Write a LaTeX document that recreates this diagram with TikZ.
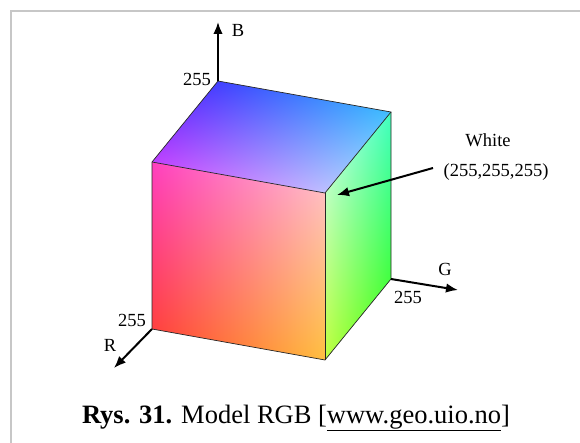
\documentclass[tikz,border=0pt]{standalone}
\usepackage{fontspec}
\setmainfont{Liberation Serif}
\usetikzlibrary{arrows.meta}

% Colour of each visible face of the RGB cube, as a function of the
% face's own unit square (x,y in 0..100)
% front face: R = 1, G along x, B along y
\pgfdeclarefunctionalshading{frontface}{\pgfpointorigin}{\pgfpoint{100bp}{100bp}}{}{%
  100 div exch 100 div exch 1 3 1 roll}
% top face: B = 1, G along x, R along y
\pgfdeclarefunctionalshading{topface}{\pgfpointorigin}{\pgfpoint{100bp}{100bp}}{}{%
  100 div exch 100 div 1}
% side face: G = 1, R along x, B along y
\pgfdeclarefunctionalshading{sideface}{\pgfpointorigin}{\pgfpoint{100bp}{100bp}}{}{%
  100 div exch 100 div exch 1 exch}

\begin{document}
\begin{tikzpicture}[x=1pt,y=1pt,
  edge/.style={line width=0.7pt, draw=black!85},
  axis/.style={line width=2pt, -{Latex[length=12pt,width=9.5pt]}},
  lbl/.style={font=\fontsize{18.5}{20}\selectfont, inner sep=0pt},
  caption/.style={font=\fontsize{26.5}{30}\selectfont, inner sep=0pt}]
\useasboundingbox[fill=white] (0,-443) rectangle (580,0);

% page frame
\draw[line width=1.5pt, black!22] (11,-460) -- (11,-11) -- (600,-11);

% cube corners
\coordinate (cB) at (218,-81);   % blue
\coordinate (cC) at (391,-112);  % cyan
\coordinate (cM) at (152,-162);  % magenta
\coordinate (cW) at (325,-193);  % white
\coordinate (cR) at (152,-329);  % red
\coordinate (cY) at (325,-360);  % yellow
\coordinate (cG) at (391,-279);  % green

% shaded faces
\begin{scope}[transform canvas={cm={1.73,-0.31,0,1.67,(152,-329)}}]
  \shade[shading=frontface] (0,0) rectangle (100,100);
\end{scope}
\begin{scope}[transform canvas={cm={1.73,-0.31,-0.66,-0.81,(218,-81)}}]
  \shade[shading=topface] (0,0) rectangle (100,100);
\end{scope}
\begin{scope}[transform canvas={cm={-0.66,-0.81,0,1.67,(391,-279)}}]
  \shade[shading=sideface] (0,0) rectangle (100,100);
\end{scope}

% cube edges
\draw[edge] (cB) -- (cC) -- (cG) -- (cY) -- (cR) -- (cM) -- cycle;
\draw[edge] (cM) -- (cW) -- (cC);
\draw[edge] (cW) -- (cY);

% axes
\coordinate (tipB) at (218,-22);
\coordinate (tipR) at (114,-368);
\coordinate (tipG) at (458,-290);
\draw[axis] (cB) -- (tipB);
\draw[axis] (cR) -- (tipR);
\draw[axis] (cG) -- (tipG);

% axis labels
\node[lbl, anchor=base] (labB) at (238,-37) {B};
\node[lbl, anchor=base east] (numB) at (211,-86) {255};
\node[lbl, anchor=base] (labR) at (110,-351) {R};
\node[lbl, anchor=base] (numR) at (132,-326) {255};
\node[lbl, anchor=base] (labG) at (445,-276) {G};
\node[lbl, anchor=base] (numG) at (408,-303) {255};

% white corner
\node[lbl, anchor=base] (wname) at (488,-147) {White};
\node[lbl, anchor=base] (wval) at (496,-177) {(255,255,255)};
\coordinate (wtail) at (433,-168);
\coordinate (wtip) at (337,-195);
\draw[axis] (wtail) -- (wtip);

% caption
\node[caption, anchor=base] (cap) at (296,-423)
  {\textbf{Rys. 31.} Model RGB [\underline{www.geo.uio.no}]};
\end{tikzpicture}
\end{document}
